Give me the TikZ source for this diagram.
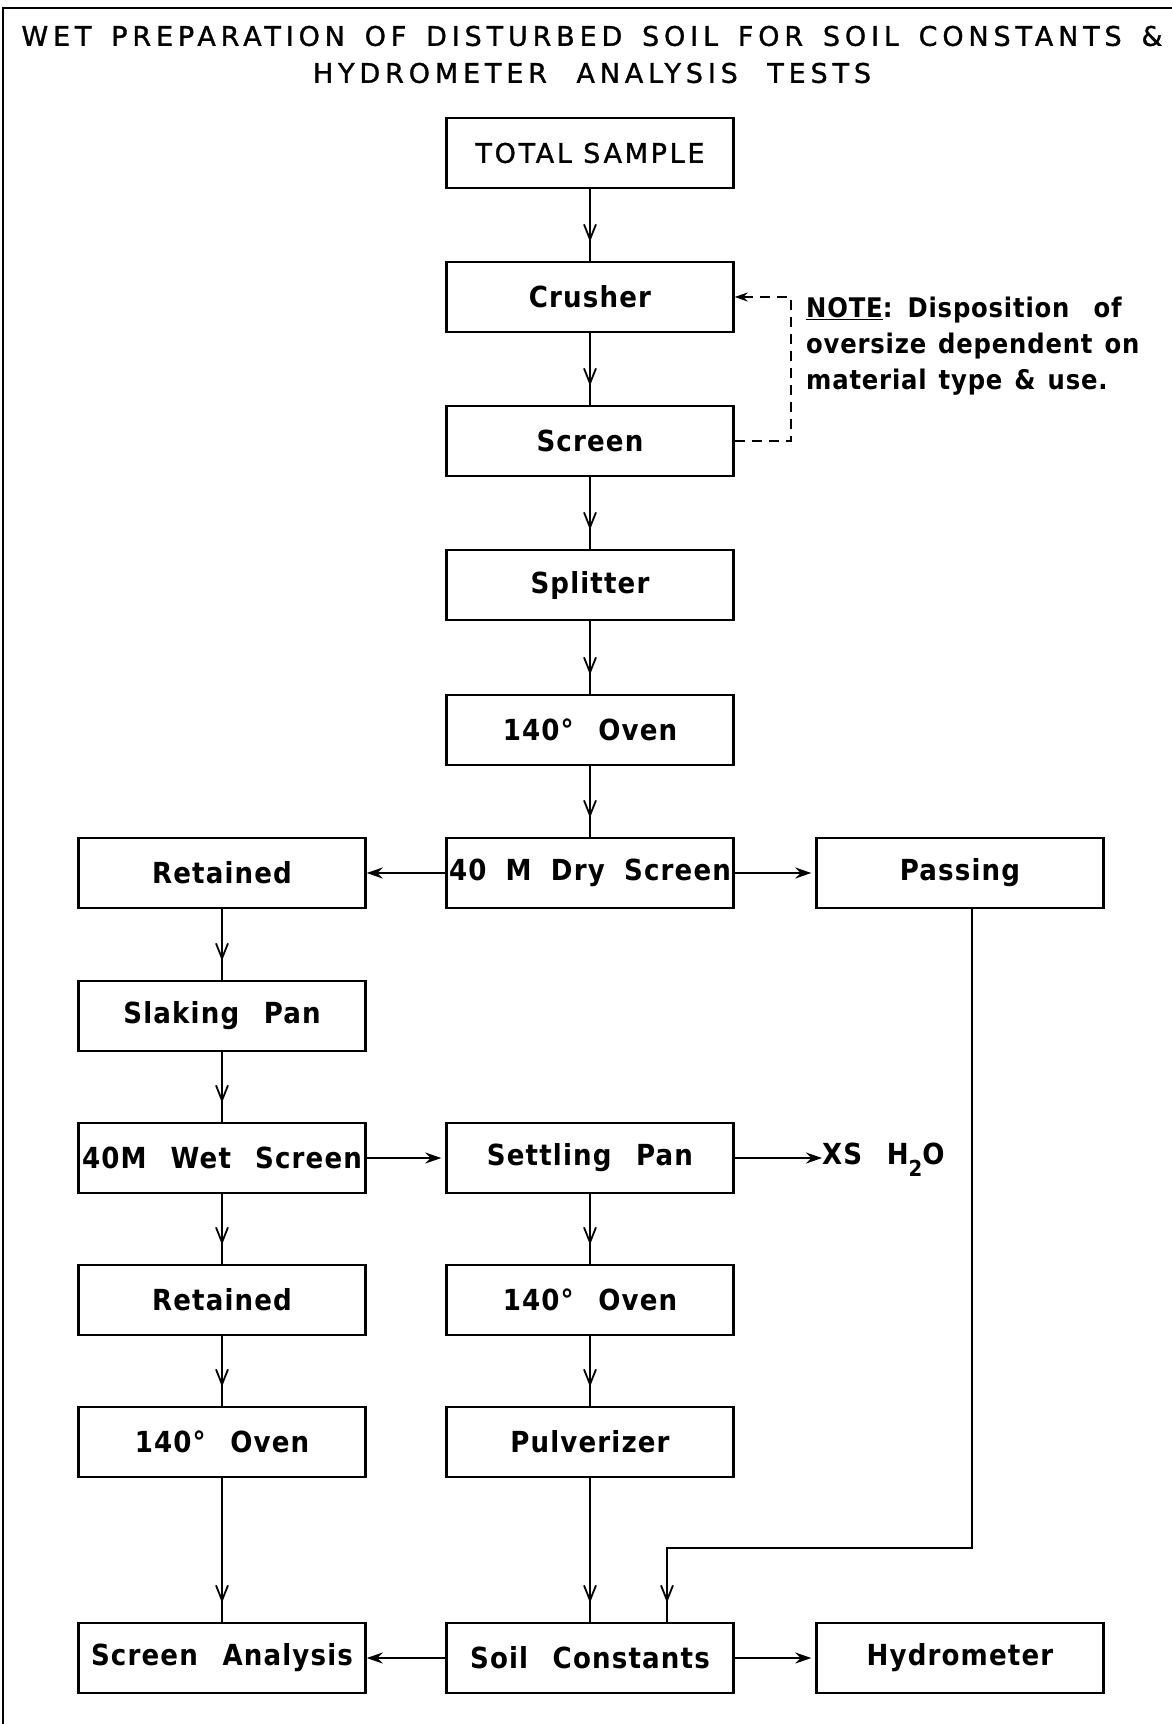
\documentclass[tikz,border=0pt]{standalone}
\usepackage{fontspec}
\setmainfont{DejaVu Sans Condensed}
\newfontfamily\titlefam{DejaVu Sans}[LetterSpace=18,FakeBold=1.2]
\newfontfamily\totalfam{DejaVu Sans}[LetterSpace=10,FakeBold=1.2]
\newfontfamily\boxfam{DejaVu Sans Condensed}[LetterSpace=4,WordSpace=2.4,UprightFont=* Bold]
\newfontfamily\notefam{DejaVu Sans Condensed}[LetterSpace=3,WordSpace=1.3,UprightFont=* Bold]
\usetikzlibrary{arrows.meta,decorations.markings}
\newcommand{\boxtxt}{\boxfam\fontsize{29}{32}\selectfont}
\newcommand{\notetxt}{\notefam\fontsize{27}{30}\selectfont}
\newcommand{\titletxt}{\titlefam\fontsize{27}{32}\selectfont}
\newcommand{\totaltxt}{\totalfam\fontsize{27}{32}\selectfont}
\begin{document}
\begin{tikzpicture}[x=1pt,y=-1pt,
  stagebox/.style={draw,line width=2.4pt,minimum width=287pt,minimum height=70pt,inner sep=0pt,font=\boxtxt},
  conn/.style={line width=1.8pt},
  vflow/.style={conn,postaction={decorate},decoration={markings,mark=at position -19pt with {\arrow{Straight Barb[length=15pt,width=12pt,line width=1.8pt]}}}},
  hflow/.style={conn,-{Stealth[length=16pt,width=11pt]}},
  dashconn/.style={line width=1.8pt,dash pattern=on 10pt off 7pt,-{Stealth[length=13pt,width=9pt]}}]
\useasboundingbox (0,0) rectangle (1172,1724);
% frame
\draw[line width=2pt] (3,1724) -- (3,8) -- (1172,8);
% title
\node[font=\titletxt,inner sep=0pt] (t1) at (592,36) {\makebox[1141pt][s]{WET PREPARATION OF DISTURBED SOIL FOR SOIL CONSTANTS \&}};
\node[font=\titletxt,inner sep=0pt] (t2) at (592,73) {\makebox[558pt][s]{HYDROMETER ANALYSIS TESTS}};
% middle column
\node[stagebox,font=\totaltxt] (total) at (590,153) {TOTAL SAMPLE};
\node[stagebox] (crusher) at (590,297) {Crusher};
\node[stagebox] (screen) at (590,441) {Screen};
\node[stagebox] (split) at (590,585) {Splitter};
\node[stagebox] (oven1) at (590,730) {140° Oven};
\node[stagebox] (dry) at (590,873) {\makebox[282pt][s]{40 M Dry Screen}};
\node[stagebox] (ret1) at (222,873) {Retained};
\node[stagebox] (pass) at (960,873) {Passing};
\node[stagebox] (slake) at (222,1016) {Slaking Pan};
\node[stagebox] (wet) at (222,1158) {\makebox[280pt][s]{40M Wet Screen}};
\node[stagebox] (settle) at (590,1158) {Settling Pan};
\node[font=\boxtxt,anchor=west,inner sep=0pt] (xs) at (822,1160) {XS H\raisebox{-0.4em}{\fontsize{22}{22}\selectfont 2}O};
\node[stagebox] (ret2) at (222,1300) {Retained};
\node[stagebox] (oven2) at (590,1300) {140° Oven};
\node[stagebox] (oven3) at (222,1442) {140° Oven};
\node[stagebox] (pulv) at (590,1442) {Pulverizer};
\node[stagebox] (scan) at (222,1658) {Screen Analysis};
\node[stagebox] (soil) at (590,1658) {Soil Constants};
\node[stagebox] (hydro) at (960,1658) {Hydrometer};
% note
\node[font=\notetxt,anchor=west,inner sep=0pt,align=left] (note) at (806,346)
  {\underline{NOTE}: Disposition\ \ of\\[6pt]oversize dependent on\\[6pt]material type \& use.};
% connectors
\draw[vflow] (total) -- (crusher);
\draw[vflow] (crusher) -- (screen);
\draw[vflow] (screen) -- (split);
\draw[vflow] (split) -- (oven1);
\draw[vflow] (oven1) -- (dry);
\draw[hflow] (dry) -- (ret1);
\draw[hflow] (dry) -- ([xshift=-4pt]pass.west);
\draw[vflow] (ret1) -- (slake);
\draw[vflow] (slake) -- (wet);
\draw[hflow] (wet) -- ([xshift=-4pt]settle.west);
\draw[hflow] (settle.east) -- (settle.east -| xs.west);
\draw[vflow] (wet) -- (ret2);
\draw[vflow] (ret2) -- (oven3);
\draw[vflow] (oven3) -- (scan);
\draw[vflow] (settle) -- (oven2);
\draw[vflow] (oven2) -- (pulv);
\draw[vflow] (pulv) -- (soil);
\coordinate (pturn) at (972,1548);
\draw[vflow] ([xshift=12pt]pass.south) -- (pturn) -| ([xshift=77pt]soil.north);
\draw[hflow] (soil) -- (scan);
\draw[hflow] (soil) -- ([xshift=-4pt]hydro.west);
\draw[dashconn] (screen.east) -- ++(56,0) |- (crusher.east);
\end{tikzpicture}
\end{document}
